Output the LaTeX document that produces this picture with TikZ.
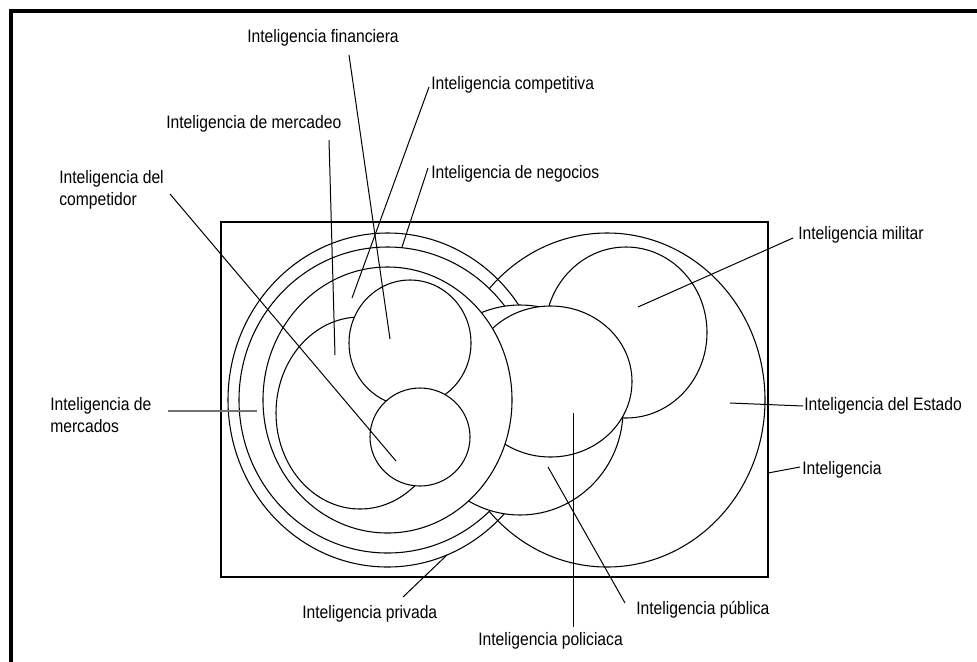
\documentclass[tikz,border=0pt]{standalone}
\usepackage{fontspec}
\setmainfont{Liberation Sans}[FakeStretch=0.87]
\begin{document}
\begin{tikzpicture}[x=0.75pt,y=-0.75pt,
  lbl/.style={anchor=base west, inner sep=0pt, font=\fontsize{13.5}{16.5}\selectfont, text=black},
  lbltwo/.style={anchor=north west, inner sep=0pt, align=left, font=\fontsize{13.5}{16.5}\selectfont, text=black},
  set/.style={draw=black, line width=0.8pt},
  setw/.style={set, fill=white},
  leader/.style={draw=black, line width=0.75pt},
  softleader/.style={draw=black!55, line width=1pt},
]
\useasboundingbox (0,0) rectangle (977,661);
\clip (0,0) rectangle (977,661);

% outer page frame
\draw[line width=3pt] (10.5,10.5) rectangle (1000,700);

% universe: Inteligencia
\draw[line width=1pt] (221,222) rectangle (768,577);

% sets, back to front
\path[setw] (607,400) ellipse [x radius=158, y radius=167];   % del Estado
\path[setw] (626,332.5) ellipse [x radius=81, y radius=85.5]; % militar
\path[set]  (387.5,400) ellipse [x radius=159.5, y radius=167]; % privada
\path[setw] (387.5,400) ellipse [x radius=148.5, y radius=153]; % de negocios
\path[setw] (520,410) ellipse [x radius=103, y radius=105];    % publica
\path[setw] (550.5,381.5) ellipse [x radius=81.5, y radius=75.5]; % policiaca
\path[setw] (387.5,400) ellipse [x radius=124.5, y radius=133]; % competitiva
\path[setw] (360,413) ellipse [x radius=84, y radius=96];      % de mercadeo
\path[setw] (410,343) ellipse [x radius=61, y radius=63];      % financiera
\path[setw] (420,437) ellipse [x radius=50, y radius=49];      % del competidor

% labels
\node[lbl] (lfin) at (247,42) {Inteligencia financiera};
\node[lbl] (lcva) at (431,89) {Inteligencia competitiva};
\node[lbl] (lmdeo) at (166,128) {Inteligencia de mercadeo};
\node[lbl] (lneg) at (431,178) {Inteligencia de negocios};
\node[lbltwo] (lcdor) at (59,170) {Inteligencia del\\competidor};
\node[lbltwo] (lmdos) at (50,397) {Inteligencia de\\mercados};
\node[lbl] (lmil) at (798,239) {Inteligencia militar};
\node[lbl] (lest) at (804,410) {Inteligencia del Estado};
\node[lbl] (lint) at (802,474) {Inteligencia};
\node[lbl] (lpriv) at (302,618) {Inteligencia privada};
\node[lbl] (lpol) at (478,645) {Inteligencia policiaca};
\node[lbl] (lpub) at (636,614) {Inteligencia pública};

% leader line end points
\coordinate (fin1) at (349,55);   \coordinate (fin2) at (390,339);
\coordinate (cva1) at (429,87);   \coordinate (cva2) at (352,298);
\coordinate (mdeo1) at (329,140); \coordinate (mdeo2) at (335,355);
\coordinate (neg1) at (428,168);  \coordinate (neg2) at (402,247);
\coordinate (cdor1) at (170,194); \coordinate (cdor2) at (396,461);
\coordinate (mdos1) at (168,411); \coordinate (mdos2) at (257,411);
\coordinate (mil1) at (793,238);  \coordinate (mil2) at (638,307);
\coordinate (est1) at (803,406);  \coordinate (est2) at (730,403);
\coordinate (int1) at (800,467);  \coordinate (int2) at (768,473);
\coordinate (priv1) at (403,597); \coordinate (priv2) at (447,555);
\coordinate (pol1) at (573,627);  \coordinate (pol2) at (573,413);
\coordinate (pub1) at (625,603);  \coordinate (pub2) at (548,467);

% leader lines
\draw[leader] (fin1) -- (fin2);
\draw[leader] (cva1) -- (cva2);
\draw[leader] (mdeo1) -- (mdeo2);
\draw[leader] (neg1) -- (neg2);
\draw[leader] (cdor1) -- (cdor2);
\draw[softleader] (mdos1) -- (mdos2);
\draw[leader] (mil1) -- (mil2);
\draw[leader] (est1) -- (est2);
\draw[leader] (int1) -- (int2);
\draw[leader] (priv1) -- (priv2);
\draw[leader] (pol1) -- (pol2);
\draw[leader] (pub1) -- (pub2);
\end{tikzpicture}
\end{document}
